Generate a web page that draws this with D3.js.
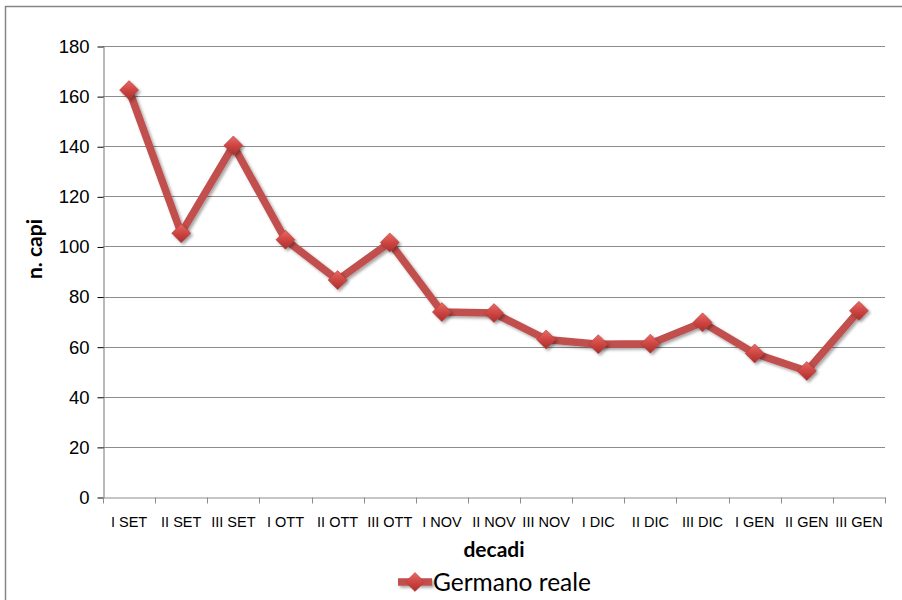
<!DOCTYPE html>
<html>
<head>
<meta charset="utf-8">
<script src="https://cdn.jsdelivr.net/npm/d3@7"></script>
<style>
  body { margin: 0; background: #fff; }
  svg { display: block; font-family: Lato, "Open Sans", sans-serif; }
</style>
</head>
<body>
<svg id="chart" width="902" height="600"></svg>
<script>
// data
const decadi = ["I SET", "II SET", "III SET", "I OTT", "II OTT", "III OTT", "I NOV", "II NOV",
  "III NOV", "I DIC", "II DIC", "III DIC", "I GEN", "II GEN", "III GEN"];
const capi = [162.4, 105.3, 140.3, 102.7, 86.6, 101.6, 73.8, 73.4, 62.9, 61.0, 61.2, 69.7, 57.3, 50.3, 74.3];
const yTicks = [0, 20, 40, 60, 80, 100, 120, 140, 160, 180];
const serie = "Germano reale";

const svg = d3.select("#chart");
const W = 902, H = 600;
const plot = { left: 103, right: 885, top: 46, bottom: 497 };
const red = "#c0504d";

// outer chart border
svg.append("rect")
  .attr("x", 5.5).attr("y", 6.5)
  .attr("width", W).attr("height", H)
  .attr("fill", "none").attr("stroke", "#868686").attr("stroke-width", 1.5);

const x = d3.scaleBand().domain(decadi).range([plot.left, plot.right]);
const y = d3.scaleLinear().domain([0, 180]).range([plot.bottom, plot.top]);

const defs = svg.append("defs");
// big user-space region so translated markers and the flat legend line keep their shadow
const sh = defs.append("filter").attr("id", "shadow")
  .attr("filterUnits", "userSpaceOnUse")
  .attr("x", -1000).attr("y", -1000).attr("width", 3000).attr("height", 3000);
sh.append("feDropShadow").attr("dx", 2).attr("dy", 2).attr("stdDeviation", 1.6)
  .attr("flood-color", "#000").attr("flood-opacity", 0.35);

const grad = defs.append("linearGradient").attr("id", "mk")
  .attr("x1", "0").attr("y1", "0").attr("x2", "0").attr("y2", "1");
grad.append("stop").attr("offset", "0%").attr("stop-color", "#e86a66");
grad.append("stop").attr("offset", "50%").attr("stop-color", "#cf4542");
grad.append("stop").attr("offset", "100%").attr("stop-color", "#a8302d");

// gridlines
svg.append("g")
  .selectAll("line")
  .data(yTicks.filter(d => d > 0))
  .enter().append("line")
  .attr("x1", plot.left).attr("x2", plot.right)
  .attr("y1", d => Math.round(y(d)) + 0.5).attr("y2", d => Math.round(y(d)) + 0.5)
  .attr("stroke", "#8c8c8c").attr("stroke-width", 1.2);

// y axis
const yAxis = svg.append("g")
  .attr("transform", `translate(${plot.left + 0.5},0.5)`)
  .call(d3.axisLeft(y).tickValues(yTicks).tickSize(6).tickPadding(8).tickSizeOuter(0));
yAxis.selectAll("text").attr("font-size", 18.5).attr("fill", "#000");

// x axis, ticks on category boundaries
const xAxis = svg.append("g")
  .attr("transform", `translate(0,${plot.bottom + 0.5})`)
  .call(d3.axisBottom(x).tickSize(0).tickPadding(19).tickSizeOuter(0));
xAxis.selectAll("text").attr("font-size", 14.5).attr("fill", "#000");
xAxis.selectAll(".tick line").remove();
xAxis.append("g")
  .selectAll("line")
  .data(decadi.map(d => x(d)).concat([plot.right]))
  .enter().append("line")
  .attr("x1", d => Math.round(d) + 0.5).attr("x2", d => Math.round(d) + 0.5)
  .attr("y1", 0).attr("y2", 6)
  .attr("stroke", "#8c8c8c");

svg.selectAll(".domain").attr("stroke", "#8c8c8c").attr("stroke-width", 1.2);

// axis titles
svg.append("text")
  .attr("transform", `translate(42,249) rotate(-90)`)
  .attr("text-anchor", "middle")
  .attr("font-size", 21).attr("font-weight", "bold")
  .text("n. capi");

svg.append("text")
  .attr("x", 494).attr("y", 557)
  .attr("text-anchor", "middle")
  .attr("font-size", 21).attr("font-weight", "bold")
  .text("decadi");

// series line
const pts = decadi.map((d, i) => [x(d) + x.bandwidth() / 2, y(capi[i])]);
svg.append("path")
  .attr("d", d3.line()(pts))
  .attr("fill", "none").attr("stroke", red)
  .attr("stroke-width", 7.5).attr("stroke-linejoin", "round")
  .attr("filter", "url(#shadow)");

const diamond = d3.symbol().type(d3.symbolDiamond2).size(230);
svg.append("g")
  .selectAll("path")
  .data(pts)
  .enter().append("path")
  .attr("transform", d => `translate(${d[0]},${d[1]})`)
  .attr("d", diamond)
  .attr("fill", "url(#mk)")
  .attr("stroke", "#b33b38").attr("stroke-width", 0.6)
  .attr("filter", "url(#shadow)");

// legend
const lg = svg.append("g").attr("transform", "translate(398,582)");
lg.append("line")
  .attr("x1", 0).attr("x2", 34).attr("y1", 0).attr("y2", 0)
  .attr("stroke", red).attr("stroke-width", 7.5)
  .attr("filter", "url(#shadow)");
lg.append("path")
  .attr("transform", "translate(17,0)")
  .attr("d", diamond)
  .attr("fill", "url(#mk)")
  .attr("stroke", "#b33b38").attr("stroke-width", 0.6);
lg.append("text")
  .attr("x", 35).attr("y", 9)
  .attr("font-size", 24.5)
  .text(serie);
</script>
</body>
</html>
